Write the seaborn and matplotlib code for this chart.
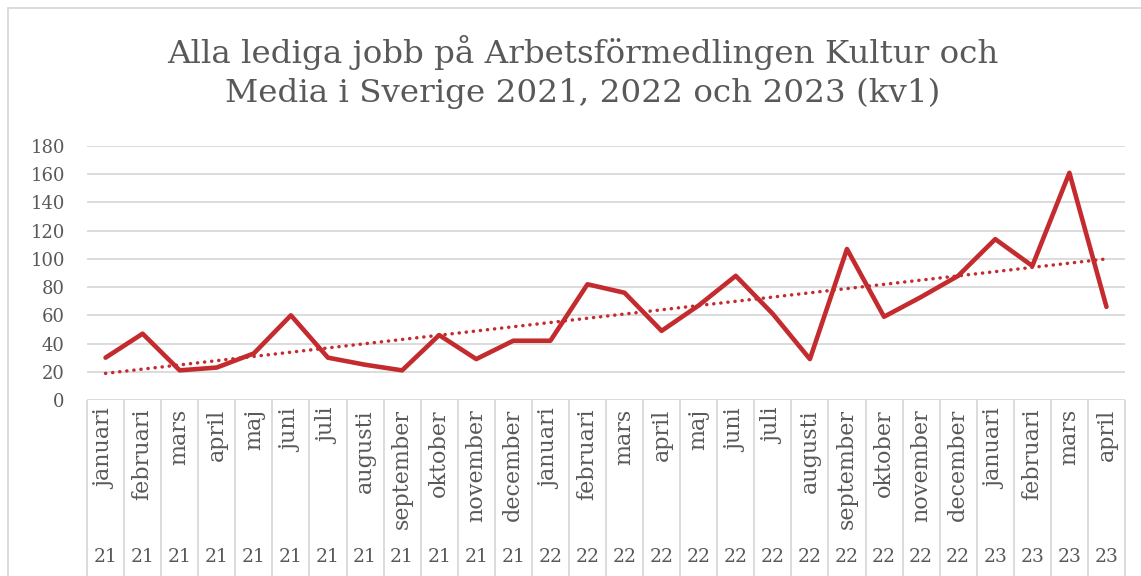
import numpy as np
import pandas as pd
import seaborn as sns
import matplotlib.pyplot as plt
from matplotlib.lines import Line2D

months = ["januari", "februari", "mars", "april", "maj", "juni", "juli", "augusti",
          "september", "oktober", "november", "december"] * 2 + ["januari", "februari", "mars", "april"]
years = ["21"] * 12 + ["22"] * 12 + ["23"] * 4
values = [30, 47, 21, 23, 33, 60, 30, 25, 21, 46, 29, 42,
          42, 82, 76, 49, 67, 88, 61, 29, 107, 59, 73, 88,
          114, 95, 161, 66]
yticks = [0, 20, 40, 60, 80, 100, 120, 140, 160, 180]
title = "Alla lediga jobb på Arbetsförmedlingen Kultur och\nMedia i Sverige 2021, 2022 och 2023 (kv1)"

sns.set_theme(style="white")
plt.rcParams['font.family'] = ['DejaVu Serif']

RED = "#C42B2F"
GRID = "#D9D9D9"
TXT = "#595959"
W, H = 1141, 576

fig = plt.figure(figsize=(W / 100, H / 100), dpi=100)
ax = fig.add_axes([87 / W, (H - 400) / H, (1125 - 87) / W, (400 - 146) / H])

x = np.arange(len(values))
df = pd.DataFrame({"x": x, "v": values})
coef = np.polyfit(x, values, 1)
df["trend"] = np.polyval(coef, x)

sns.lineplot(data=df, x="x", y="trend", ax=ax, color=RED, lw=2.5,
             linestyle=(0, (0.05, 2.0)), dash_capstyle="round", zorder=3)
sns.lineplot(data=df, x="x", y="v", ax=ax, color=RED, lw=3.3, zorder=4,
             solid_joinstyle="round", solid_capstyle="round")

ax.set_xlim(-0.5, len(values) - 0.5)
ax.set_ylim(0, 180)
ax.set_yticks(yticks)
ax.set_yticklabels([str(t) for t in yticks])
ax.set_xticks([])
ax.set_xlabel("")
ax.set_ylabel("")
ax.tick_params(axis="y", length=0, pad=16, labelsize=13, labelcolor=TXT)
ax.yaxis.grid(True, color=GRID, lw=1.3)
ax.set_axisbelow(True)
for s in ax.spines.values():
    s.set_visible(False)

tr = ax.get_xaxis_transform()
ax_h = 400 - 146
ax.vlines(np.arange(-0.5, len(values)), -(H - 400) / ax_h, 0, transform=tr,
          color=GRID, lw=1.3, clip_on=False)
for i, (m, yv) in enumerate(zip(months, years)):
    ax.text(i, -9 / ax_h, m, transform=tr, rotation=90, ha="center", va="top",
            fontsize=16, color=TXT, clip_on=False)
    ax.text(i, -(557 - 400) / ax_h, yv, transform=tr, ha="center", va="center",
            fontsize=13.5, color=TXT, clip_on=False)

fig.add_artist(Line2D([8 / W, 8 / W], [0, 1 - 8 / H], transform=fig.transFigure, color=GRID, lw=1.3))
fig.add_artist(Line2D([8 / W, 1], [1 - 8 / H, 1 - 8 / H], transform=fig.transFigure, color=GRID, lw=1.3))

fig.text(582.5 / W, 1 - 72 / H, title, ha="center", va="center", fontsize=23.4,
         color=TXT, linespacing=1.35)

fig.savefig("out.png", dpi=100)
